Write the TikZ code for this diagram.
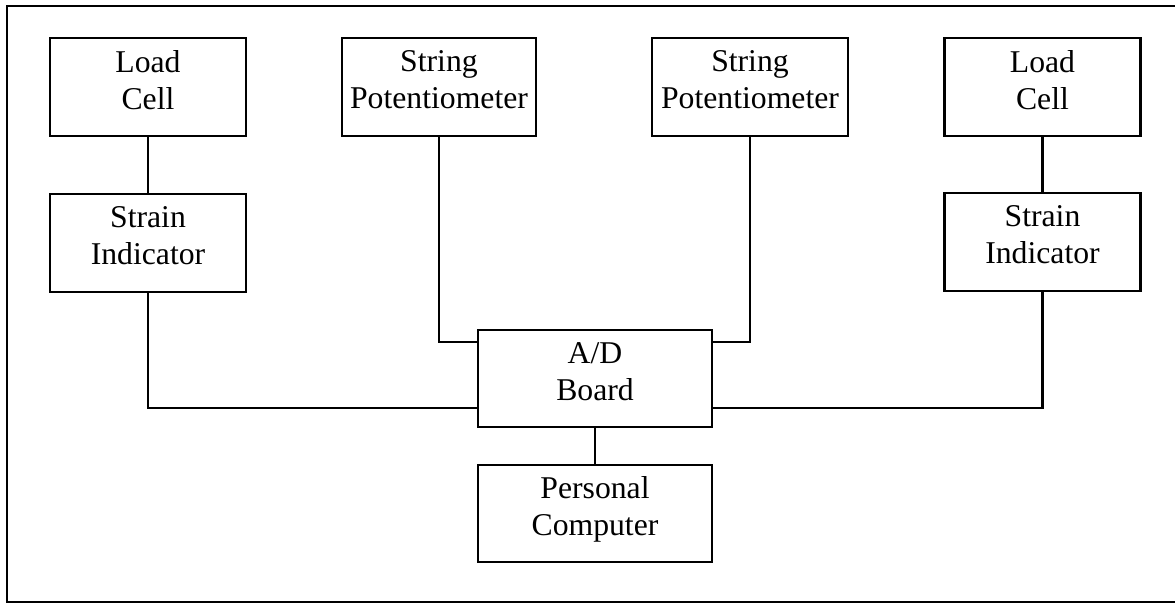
\documentclass[tikz,border=0pt]{standalone}
\usepackage{fontspec}
\setmainfont{Liberation Serif}
\begin{document}
\begin{tikzpicture}[x=0.5pt,y=-0.5pt,
  box/.style={draw, line width=1.2pt, align=center, inner sep=0pt,
    font=\fontsize{15.85}{18.5}\selectfont, text depth=7pt},
  wide/.style={box, minimum width=98pt, minimum height=49pt},
  mid/.style={box, minimum width=117pt, minimum height=48.5pt},
  conn/.style={line width=1.2pt}]
\useasboundingbox (0,0) rectangle (1175,604);
\draw[line width=1.2pt] (1175,6) -- (7,6) -- (7,602) -- (1175,602);
\node[wide] (lc1) at (148,87) {Load\\Cell};
\node[wide] (si1) at (148,243) {Strain\\Indicator};
\node[box, minimum width=97pt, minimum height=49pt] (sp1) at (439,87) {String\\Potentiometer};
\node[wide] (sp2) at (750,87) {String\\Potentiometer};
\node[wide] (lc2) at (1042.5,87) {Load\\Cell};
\node[wide] (si2) at (1042.5,242) {Strain\\Indicator};
\node[mid] (ad) at (595,378.5) {A/D\\Board};
\node[mid] (pc) at (595,513.5) {Personal\\Computer};
\draw[conn] (lc1) -- (si1);
\draw[conn] (lc2) -- (si2);
\draw[conn] (si1.south) |- ([yshift=10pt]ad.south west);
\draw[conn] (si2.south) |- ([yshift=10pt]ad.south east);
\draw[conn] (sp1.south) |- ([yshift=-6.5pt]ad.north west);
\draw[conn] (sp2.south) |- ([yshift=-6.5pt]ad.north east);
\draw[conn] (ad) -- (pc);
\end{tikzpicture}
\end{document}
